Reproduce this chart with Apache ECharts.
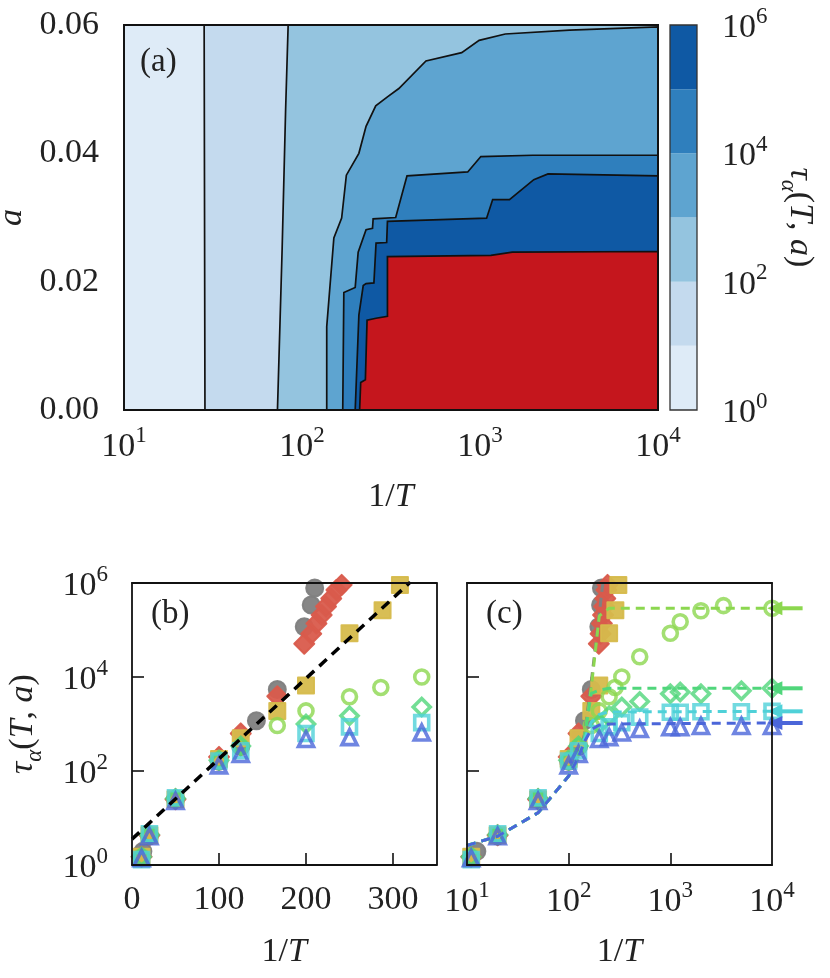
<!DOCTYPE html>
<html>
<head>
<meta charset="utf-8">
<script src="https://cdn.jsdelivr.net/npm/echarts@6/dist/echarts.min.js"></script>
<style>
  html, body { margin: 0; background: #fff; }
  #chart { width: 830px; height: 978px; }
</style>
</head>
<body>
<div id="chart"></div>
<script>
const FONT = 'Liberation Serif'
const INK = '#222'

// ---- panel (a): contour lines of tau_alpha(T, a), levels 10^1 ... 10^6, as [1/T, a]
const contour1 = [[28.5, 0], [28.2, 0.06]]
const contour2 = [[72.8, 0], [77.3, 0.0249], [80.9, 0.0468], [83.6, 0.06]]
const contour3 = [[137.7, 0], [137.7, 0.013], [151, 0.0268], [167, 0.0299], [177.5, 0.0366], [208.7, 0.04],
  [229, 0.0442], [259.5, 0.0474], [302, 0.0488], [350, 0.0501], [497, 0.0544], [789, 0.0557],
  [989, 0.0576], [1386, 0.0586], [3184, 0.0592], [10000, 0.0597]]
const contour4 = [[169.4, 0], [171.8, 0.0183], [199, 0.0191], [206.8, 0.0246], [229, 0.0281], [249, 0.0283],
  [251, 0.0298], [336, 0.03], [389, 0.0365], [853, 0.0371], [1011, 0.0395], [1977, 0.0397], [10000, 0.0397]]
const contour5 = [[199, 0], [208.7, 0.0148], [220.8, 0.0194], [229, 0.0197], [253.5, 0.0198], [260.6, 0.026],
  [299, 0.0261], [302, 0.0294], [1089, 0.0299], [1178, 0.0328], [1464, 0.0328], [2005, 0.0359],
  [2410, 0.0368], [10000, 0.0365]]
const contour6 = [[210.7, 0], [213.7, 0.0043], [227, 0.0047], [232, 0.014], [260.6, 0.0143], [302, 0.0146],
  [302, 0.0239], [1151, 0.0241], [1520, 0.0246], [10000, 0.0247]]
const contours = [contour1, contour2, contour3, contour4, contour5, contour6]
const bandColors = ['#deebf7', '#c4daee', '#94c4df', '#5ea4d0', '#2f7fbd', '#0f59a4']
const overColor = '#c5161d'
const cbEdges = [1, 10, 100, 1e3, 1e4, 1e5, 1e6]
const xLimA = [10, 1e4]
const aLim = [0, 0.06]

// ---- panels (b), (c): measured tau_alpha vs 1/T
const grayX = [12.5, 20, 50, 100, 125, 143, 167, 198, 206, 210]
const grayTau = [1.95, 4.2, 25, 160, 330, 1170, 5400, 117000, 340000, 780000]
const redX = [11, 20, 50, 100, 125, 167, 198, 206, 212, 218, 223, 229, 235, 241]
const redTau = [1.5, 4.3, 25, 200, 630, 3900, 51000, 83000, 138000, 209000, 316000, 468000, 708000, 912000]
const yellowX = [11, 20, 50, 100, 125, 167, 200, 250, 288, 308]
const yellowTau = [1.5, 4.3, 25, 180, 500, 1900, 6600, 85000, 263000, 912000]
const limeX = [11, 20, 50, 100, 125, 167, 200, 250, 286, 333, 500, 1000, 1250, 2000, 3333, 10000]
const limeTau = [1.5, 4.4, 26, 170, 330, 930, 1900, 3800, 6000, 10000, 27000, 85000, 150000, 257000, 330000, 290000]
const openX = [11, 20, 50, 100, 125, 200, 250, 333, 500, 1000, 1250, 2000, 5000, 10000]
const greenTau = [1.5, 4.4, 26, 170, 340, 1000, 1500, 2300, 3000, 4400, 4800, 4400, 5100, 5750]
const cyanTau = [1.3, 4.6, 27, 163, 270, 630, 870, 1070, 1400, 1780, 1780, 1820, 1820, 1860]
const blueTau = [1.4, 4.1, 23, 132, 230, 480, 525, 660, 780, 850, 850, 910, 910, 910]

// fit in (b)
const fitX = [0, 320]
const fitTau = [3.55, 1.05e6]

// model curves in (c)
const modelX = [10, 20, 50, 100, 125, 143, 167, 200, 250, 10000]
const grayModelX = [10, 20, 50, 100, 125, 143, 167, 200, 220]
const grayModel = [2.6, 4.1, 12.9, 78, 200, 600, 8000, 220000, 1.3e6]
const limeModel = [2.6, 4.1, 12.9, 78, 200, 520, 6000, 200000, 290000, 290000]
const greenModel = [2.6, 4.1, 12.9, 78, 200, 520, 4500, 5300, 5750, 5750]
const cyanModel = [2.6, 4.1, 12.9, 78, 200, 480, 1100, 1600, 1800, 1860]
const blueModel = [2.6, 4.1, 12.9, 78, 200, 420, 760, 950, 1000, 1050]

// plateau arrows on the right of (c)
const arrowTau = [290000, 5750, 1860, 1050]
const arrowFrom = 20000
const arrowTo = 9000

const C = {
  gray: '#808080', red: '#d95b4c', yellow: '#d6bb4c',
  lime: '#8cd74f', green: '#50d67b', cyan: '#4fd1d8', blue: '#4b66d9'
}
const arrowColors = [C.lime, C.green, C.cyan, C.blue]

const chart = echarts.init(document.getElementById('chart'))

const pow10 = v => '{b|10}{s|' + Math.round(Math.log10(v)) + '}'
const labRich = {
  b: { fontFamily: FONT, fontSize: 34, color: INK, lineHeight: 40, verticalAlign: 'bottom' },
  s: { fontFamily: FONT, fontSize: 23, color: INK, lineHeight: 20, verticalAlign: 'top' }
}
const nameRich = {
  t: { fontFamily: FONT, fontSize: 34, color: INK, fontStyle: 'italic', lineHeight: 40, verticalAlign: 'top' },
  p: { fontFamily: FONT, fontSize: 34, color: INK, lineHeight: 40, verticalAlign: 'top' },
  sub: { fontFamily: FONT, fontSize: 23, color: INK, fontStyle: 'italic', lineHeight: 22, verticalAlign: 'bottom' }
}
const tauName = '{t|τ}{sub|α}{p|(}{t|T}{p|, }{t|a}{p|)}'
const invT = '{p|1/}{t|T}'
const frameLine = { show: true, onZero: false, lineStyle: { color: '#111', width: 1.8 } }
const plainLabel = { fontFamily: FONT, fontSize: 34, color: INK }
const panelText = { fontFamily: FONT, fontSize: 33, fontWeight: 'normal', color: INK }

function frameX(grid) {
  return { gridIndex: grid, type: 'value', position: 'top', min: 0, max: 1, z: 10,
    axisLine: frameLine, axisTick: { show: false }, axisLabel: { show: false }, splitLine: { show: false } }
}
function frameY(grid) {
  return { gridIndex: grid, type: 'value', position: 'right', min: 0, max: 1, z: 10,
    axisLine: frameLine, axisTick: { show: false }, axisLabel: { show: false }, splitLine: { show: false } }
}
const inTick = vals => ({ show: true, inside: true, length: 12, customValues: vals, lineStyle: { color: '#111', width: 1.6 } })

function renderContour(params, api) {
  const k = api.value(2)
  let pts
  if (k < 0) {
    pts = [api.coord([xLimA[0], aLim[0]]), api.coord([xLimA[0], aLim[1]]),
      api.coord([xLimA[1], aLim[1]]), api.coord([xLimA[1], aLim[0]])]
  } else {
    const line = contours[k]
    pts = line.map(p => api.coord(p))
    if (line[line.length - 1][0] < xLimA[1]) pts.push(api.coord([xLimA[1], aLim[1]]))
    pts.push(api.coord([xLimA[1], aLim[0]]))
  }
  const fill = k < 0 ? bandColors[0] : (k < 5 ? bandColors[k + 1] : overColor)
  return { type: 'polygon', shape: { points: pts }, style: { fill: fill, stroke: '#111', lineWidth: 1.7 } }
}

function renderBar(params, api) {
  const p0 = api.coord([0, api.value(1)])
  const p1 = api.coord([1, api.value(2)])
  const last = params.dataIndex === bandColors.length
  return { type: 'rect', shape: { x: p0[0], y: p1[1], width: p1[0] - p0[0], height: p0[1] - p1[1] },
    style: last ? { fill: 'none', stroke: '#333', lineWidth: 1.3 } : { fill: bandColors[params.dataIndex] } }
}

function renderArrow(params, api) {
  const tail = api.coord([api.value(0), api.value(1)])
  const head = api.coord([api.value(2), api.value(1)])
  const c = arrowColors[params.dataIndex]
  const L = 15, W = 7
  return { type: 'group', children: [
    { type: 'line', shape: { x1: tail[0], y1: tail[1], x2: head[0] + L - 2, y2: head[1] }, style: { stroke: c, lineWidth: 4 } },
    { type: 'polygon', shape: { points: [[head[0], head[1]], [head[0] + L, head[1] - W], [head[0] + L, head[1] + W]] }, style: { fill: c } }
  ] }
}

const zip = (xs, ys) => xs.map((x, i) => [x, ys[i]])

function markers(xs, ys, symbol, size, color, open, axis) {
  return {
    type: 'scatter', xAxisIndex: axis, yAxisIndex: axis, symbol: symbol, symbolSize: size,
    data: zip(xs, ys), z: 3, silent: true,
    itemStyle: open
      ? { color: 'rgba(0,0,0,0)', borderColor: color, borderWidth: 3.6 }
      : { color: color, borderColor: color, borderWidth: 2, borderJoin: 'round', opacity: 0.95 }
  }
}
function markerSet(axis) {
  return [
    markers(grayX, grayTau, 'circle', 17, C.gray, false, axis),
    markers(redX, redTau, 'diamond', 20, C.red, false, axis),
    markers(yellowX, yellowTau, 'rect', 16, C.yellow, false, axis),
    markers(limeX, limeTau, 'circle', 14, C.lime, true, axis),
    markers(openX, greenTau, 'diamond', 17, C.green, true, axis),
    markers(openX, cyanTau, 'rect', 14, C.cyan, true, axis),
    markers(openX, blueTau, 'triangle', 15, C.blue, true, axis)
  ]
}
function model(xs, ys, color) {
  return { type: 'line', xAxisIndex: 5, yAxisIndex: 5, data: zip(xs, ys), showSymbol: false, z: 5, silent: true,
    lineStyle: { color: color, width: 3, type: [9, 6] } }
}

const gridBase = { outerBoundsMode: 'none', containLabel: false }

const option = {
  animation: false,
  backgroundColor: '#fff',
  title: [
    { text: '(a)', left: 135, top: 41, textStyle: panelText },
    { text: '(b)', left: 146, top: 593, textStyle: panelText },
    { text: '(c)', left: 481, top: 593, textStyle: panelText }
  ],
  grid: [
    Object.assign({ left: 124, top: 25, width: 534, height: 385 }, gridBase),
    Object.assign({ left: 670, top: 25, width: 27, height: 385 }, gridBase),
    Object.assign({ left: 132, top: 583, width: 304.5, height: 282 }, gridBase),
    Object.assign({ left: 467, top: 583, width: 305, height: 282 }, gridBase)
  ],
  xAxis: [
    { gridIndex: 0, type: 'log', logBase: 10, min: xLimA[0], max: xLimA[1], z: 10,
      axisLine: frameLine, axisTick: { show: false }, splitLine: { show: false },
      axisLabel: { formatter: pow10, rich: labRich, margin: 14 },
      name: invT, nameLocation: 'middle', nameGap: 70, nameTextStyle: { rich: nameRich } },
    frameX(0),
    { gridIndex: 1, type: 'value', min: 0, max: 1, show: false },
    { gridIndex: 2, type: 'value', min: 0, max: 350, z: 10,
      axisLine: frameLine, axisTick: inTick([100, 200, 300]), splitLine: { show: false },
      axisLabel: Object.assign({ customValues: [0, 100, 200, 300], margin: 18 }, plainLabel),
      name: invT, nameLocation: 'middle', nameGap: 70, nameTextStyle: { rich: nameRich } },
    frameX(2),
    { gridIndex: 3, type: 'log', logBase: 10, min: 10, max: 1e4, z: 10,
      axisLine: frameLine, axisTick: inTick([100, 1000]), splitLine: { show: false },
      axisLabel: { formatter: pow10, rich: labRich, margin: 14 },
      name: invT, nameLocation: 'middle', nameGap: 70, nameTextStyle: { rich: nameRich } },
    frameX(3)
  ],
  yAxis: [
    { gridIndex: 0, type: 'value', min: aLim[0], max: aLim[1], interval: 0.02, z: 10,
      axisLine: frameLine, axisTick: { show: false }, splitLine: { show: false },
      axisLabel: Object.assign({ formatter: v => v.toFixed(2), margin: 25 }, plainLabel),
      name: '{t|a}', nameLocation: 'middle', nameRotate: 90, nameGap: 86, nameTextStyle: { rich: nameRich } },
    frameY(0),
    { gridIndex: 1, type: 'log', logBase: 10, min: 1, max: 1e6, position: 'right',
      axisLine: { show: false }, axisTick: { show: false }, splitLine: { show: false },
      axisLabel: { customValues: [1, 100, 1e4, 1e6], formatter: pow10, rich: labRich, margin: 25 },
      name: tauName, nameLocation: 'middle', nameRotate: -90, nameGap: 80, nameTextStyle: { rich: nameRich } },
    { gridIndex: 2, type: 'log', logBase: 10, min: 1, max: 1e6, z: 10,
      axisLine: frameLine, axisTick: inTick([100, 1e4]), splitLine: { show: false },
      axisLabel: { customValues: [1, 100, 1e4, 1e6], formatter: pow10, rich: labRich, margin: 24 },
      name: tauName, nameLocation: 'middle', nameRotate: 90, nameGap: 86, nameTextStyle: { rich: nameRich } },
    frameY(2),
    { gridIndex: 3, type: 'log', logBase: 10, min: 1, max: 1e6, z: 10,
      axisLine: frameLine, axisTick: inTick([100, 1e4]), splitLine: { show: false },
      axisLabel: { show: false } },
    frameY(3)
  ],
  series: [
    { type: 'custom', xAxisIndex: 0, yAxisIndex: 0, renderItem: renderContour, silent: true, z: 2,
      encode: { x: 0, y: 1 },
      data: [[1000, 0.03, -1]].concat(contours.map((c, k) => [1000, 0.03, k])) },
    { type: 'custom', xAxisIndex: 2, yAxisIndex: 2, renderItem: renderBar, silent: true, z: 2,
      encode: { x: 0, y: 1 },
      data: bandColors.map((c, i) => [0.5, cbEdges[i], cbEdges[i + 1]]).concat([[0.5, cbEdges[0], cbEdges[6]]]) },
    ...markerSet(3),
    { type: 'line', xAxisIndex: 3, yAxisIndex: 3, data: zip(fitX, fitTau), showSymbol: false, z: 5, silent: true,
      lineStyle: { color: '#000', width: 3.5, type: [10, 7] } },
    ...markerSet(5),
    model(grayModelX, grayModel, C.gray),
    model(modelX, limeModel, C.lime),
    model(modelX, greenModel, C.green),
    model(modelX, cyanModel, C.cyan),
    model(modelX, blueModel, C.blue),
    { type: 'custom', xAxisIndex: 5, yAxisIndex: 5, renderItem: renderArrow, silent: true, z: 6, clip: false,
      encode: { x: 0, y: 1 },
      data: arrowTau.map(t => [arrowFrom, t, arrowTo]) }
  ]
}

chart.setOption(option)
</script>
</body>
</html>
